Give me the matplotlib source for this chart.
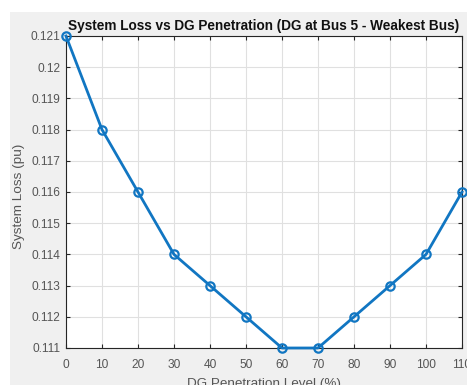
import matplotlib.pyplot as plt
from matplotlib.patches import Rectangle

plt.rcParams['font.family'] = ['Liberation Sans', 'DejaVu Sans']

penetration = [0, 10, 20, 30, 40, 50, 60, 70, 80, 90, 100, 110]
system_loss = [0.121, 0.118, 0.116, 0.114, 0.113, 0.112, 0.111, 0.111, 0.112, 0.113, 0.114, 0.116]
y_ticks = [0.111, 0.112, 0.113, 0.114, 0.115, 0.116, 0.117, 0.118, 0.119, 0.12, 0.121]
y_labels = ['0.111', '0.112', '0.113', '0.114', '0.115', '0.116', '0.117', '0.118', '0.119', '0.12', '0.121']

W, H = 467, 385
fig = plt.figure(figsize=(W / 100, H / 100), dpi=100, facecolor='white')
# grey figure window background
fig.add_artist(Rectangle((10 / W, 0), 1, 1 - 12 / H, transform=fig.transFigure,
                         facecolor='#f0f0f0', edgecolor='none', zorder=-10))

ax = fig.add_axes([66 / W, (H - 348) / H, (462 - 66) / W, (348 - 36) / H])
ax.plot(penetration, system_loss, color='#1176c2', linewidth=2, marker='o',
        markersize=6, markerfacecolor='none', markeredgewidth=1.6, clip_on=False, zorder=3)

ax.set_xlim(0, 110)
ax.set_ylim(0.111, 0.121)
ax.set_xticks(penetration)
ax.set_yticks(y_ticks)
ax.set_yticklabels(y_labels)
ax.grid(True, color='#e0e0e0', linewidth=0.8)
ax.set_axisbelow(True)
ax.tick_params(direction='in', length=3, top=True, right=True, labelsize=8.6,
               colors='#262626', labelcolor='#555555', width=0.8)
ax.tick_params(axis='x', pad=8)
ax.tick_params(axis='y', pad=4)
for s in ax.spines.values():
    s.set_color('#262626')
    s.set_linewidth(0.8)

ax.set_title('System Loss vs DG Penetration (DG at Bus 5 - Weakest Bus)',
             fontsize=9.8, fontweight='bold', color='#111111', pad=4)
ax.set_xlabel('DG Penetration Level (%)', fontsize=9.7, color='#555555', labelpad=6)
ax.set_ylabel('System Loss (pu)', fontsize=9.7, color='#555555', labelpad=6)
ax.xaxis.set_label_coords(0.5, -(384 - 348) / 312, transform=ax.transAxes)
ax.xaxis.label.set_va('center')
ax.yaxis.set_label_coords(-(66 - 19) / 396, 0.5 - (196 - 192) / 312, transform=ax.transAxes)
ax.yaxis.label.set_va('center')

fig.savefig('out.png', dpi=100)
